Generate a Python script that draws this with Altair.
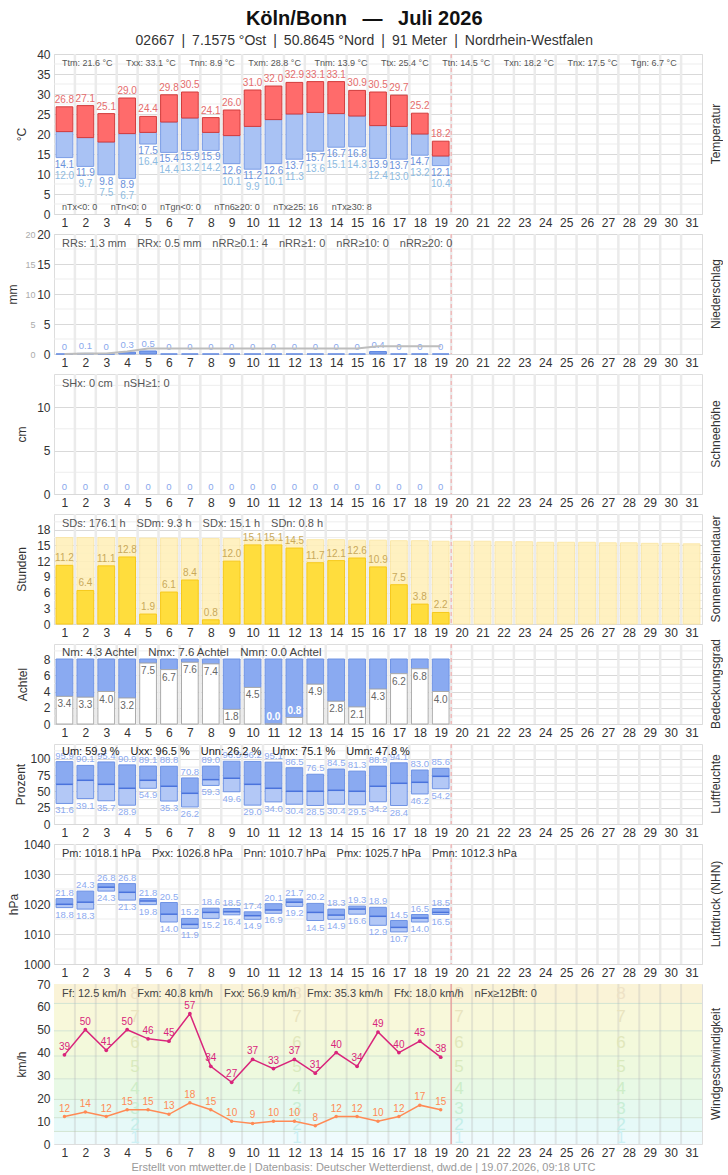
import altair as alt
import pandas as pd

FONT = "Liberation Sans"
W = 648
days_all = list(range(1, 32))
obs_days = list(range(1, 20))
last_day = 19

# ---------------- data ----------------
t_max = [26.8, 27.1, 25.1, 29.0, 24.4, 29.8, 30.5, 24.1, 26.0, 31.0, 32.0, 32.9, 33.1, 33.1, 30.9, 30.5, 29.7, 25.2, 18.2]
t_mean = [20.6, 19.1, 18.0, 20.1, 20.4, 23.0, 24.0, 20.4, 19.6, 21.9, 23.6, 25.0, 25.4, 25.1, 24.5, 22.1, 21.9, 20.0, 14.5]
t_min = [14.1, 11.9, 9.8, 8.9, 17.5, 15.4, 15.9, 15.9, 12.6, 11.2, 12.6, 13.7, 15.7, 16.7, 16.8, 13.9, 13.7, 14.7, 12.1]
t_ground = [12.0, 9.7, 7.5, 6.7, 16.4, 14.4, 13.2, 14.2, 10.1, 9.9, 10.1, 11.3, 13.6, 15.1, 14.3, 12.4, 13.0, 13.2, 10.4]
temp_stats_top = ["Ttm: 21.6 °C", "Txx: 33.1 °C", "Tnn: 8.9 °C", "Txm: 28.8 °C", "Tnm: 13.9 °C",
                  "Ttx: 25.4 °C", "Ttn: 14.5 °C", "Txn: 18.2 °C", "Tnx: 17.5 °C", "Tgn: 6.7 °C"]
temp_stats_bot = ["nTx<0: 0", "nTn<0: 0", "nTgn<0: 0", "nTn6≥20: 0", "nTx≥25: 16", "nTx≥30: 8"]

precip = [0, 0.1, 0, 0.3, 0.5, 0, 0, 0, 0, 0, 0, 0, 0, 0, 0, 0.4, 0, 0, 0]
precip_stats = ["RRs: 1.3 mm", "RRx: 0.5 mm", "nRR≥0.1: 4", "nRR≥1: 0", "nRR≥10: 0", "nRR≥20: 0"]

snow = [0] * 19
snow_stats = ["SHx: 0 cm", "nSH≥1: 0"]

sun = [11.2, 6.4, 11.1, 12.8, 1.9, 6.1, 8.4, 0.8, 12.0, 15.1, 15.1, 14.5, 11.7, 12.1, 12.6, 10.9, 7.5, 3.8, 2.2]
sun_max = [16.5, 16.5, 16.5, 16.5, 16.4, 16.4, 16.3, 16.3, 16.3, 16.2, 16.2, 16.1, 16.1, 16.1, 16.0, 16.0,
           15.9, 15.9, 15.8, 15.8, 15.8, 15.7, 15.7, 15.6, 15.6, 15.6, 15.5, 15.5, 15.4, 15.4, 15.3]
sun_stats = ["SDs: 176.1 h", "SDm: 9.3 h", "SDx: 15.1 h", "SDn: 0.8 h"]

cloud = [3.4, 3.3, 4.0, 3.2, 7.5, 6.7, 7.6, 7.4, 1.8, 4.5, 0.0, 0.8, 4.9, 2.8, 2.1, 4.3, 6.2, 6.8, 4.0]
cloud_stats = ["Nm: 4.3 Achtel", "Nmx: 7.6 Achtel", "Nmn: 0.0 Achtel"]

hum_max = [95.9, 90.1, 95.4, 90.9, 89.1, 88.8, 70.8, 89.0, 96.5, 96.2, 95.1, 86.5, 76.5, 84.5, 81.3, 88.9, 94.1, 83.0, 85.6]
hum_mean = [61.0, 67.2, 61.0, 54.9, 67.2, 58.0, 47.2, 68.2, 70.3, 61.0, 54.9, 50.3, 50.3, 51.8, 50.3, 58.0, 62.6, 64.1, 73.3]
hum_min = [31.6, 39.1, 35.7, 28.9, 54.9, 35.3, 26.2, 59.3, 49.6, 29.0, 34.0, 30.4, 28.5, 30.4, 29.5, 34.2, 28.4, 46.2, 54.2]
hum_stats = ["Um: 59.9 %", "Uxx: 96.5 %", "Unn: 26.2 %", "Umx: 75.1 %", "Umn: 47.8 %"]

p_max = [1021.8, 1024.3, 1026.8, 1026.8, 1021.8, 1020.5, 1015.2, 1018.6, 1018.5, 1017.4, 1020.1, 1021.7, 1020.2,
         1018.3, 1019.3, 1018.9, 1014.5, 1016.5, 1018.5]
p_mean = [1019.9, 1020.6, 1025.6, 1023.9, 1021.0, 1016.6, 1013.2, 1017.2, 1017.4, 1016.1, 1018.0, 1020.6, 1017.2,
          1016.3, 1018.3, 1015.9, 1012.2, 1015.3, 1017.2]
p_min = [1018.8, 1018.3, 1024.3, 1021.3, 1019.8, 1014.0, 1011.9, 1015.2, 1016.4, 1014.9, 1016.9, 1019.2, 1014.5,
         1014.9, 1016.6, 1012.9, 1010.7, 1014.0, 1016.5]
p_stats = ["Pm: 1018.1 hPa", "Pxx: 1026.8 hPa", "Pnn: 1010.7 hPa", "Pmx: 1025.7 hPa", "Pmn: 1012.3 hPa"]

gust = [39, 50, 41, 50, 46, 45, 57, 34, 27, 37, 33, 37, 31, 40, 34, 49, 40, 45, 38]
wind = [12, 14, 12, 15, 15, 13, 18, 15, 10, 9, 10, 10, 8, 12, 12, 10, 12, 17, 15]
wind_stats = ["Ff: 12.5 km/h", "Fxm: 40.8 km/h", "Fxx: 56.9 km/h", "Fmx: 35.3 km/h", "Ffx: 18.0 km/h", "nFx≥12Bft: 0"]

bft_num = ["1", "2", "3", "4", "5", "6", "7", "8"]
bft_lo = [0, 5.5, 11.5, 19.5, 28.5, 38.5, 49.5, 61.5]
bft_hi = [5.5, 11.5, 19.5, 28.5, 38.5, 49.5, 61.5, 70]
bft_fill = ["#effbfd", "#e6f9f8", "#e6f9ef", "#e8f9e5", "#eef9de", "#f3f9db", "#f8f8da", "#faf3d7"]
bft_text = ["#cdf0f4", "#c4eee9", "#c8eed5", "#cdedc8", "#d9eabe", "#e1e7bb", "#e9e4bf", "#eee2c6"]

title_text = "Köln/Bonn\u2002 —\u2002 Juli 2026"
subtitle_text = "02667\u2002|\u20027.1575 °Ost\u2002|\u200250.8645 °Nord\u2002|\u200291 Meter\u2002|\u2002Nordrhein-Westfalen"
footer_text = "Erstellt von mtwetter.de | Datenbasis: Deutscher Wetterdienst, dwd.de | 19.07.2026, 09:18 UTC"

SEP_SMALL = "\u2003\u2002"
SEP = "\u2003"

# ---------------- helpers ----------------
XS = alt.Scale(domain=[0.5, 31.5], nice=False, zero=False)


def xaxis(title=None, **kw):
    return alt.Axis(values=days_all, grid=False, ticks=False, domain=False, labelPadding=3,
                    labelFontSize=12, labelColor="#333", title=title, labelFlush=False, format="d",
                    labelFont=FONT, labelOverlap=False, **kw)


XAX = xaxis()


def X(field, ax=None):
    return alt.X(f"{field}:Q", scale=XS, axis=ax if ax is not None else XAX)


def steps(start, step, stop):
    out = []
    v = start
    while v <= stop + 1e-9:
        out.append(round(v, 3))
        v += step
    return out


def yax(values, title, grid=True, **kw):
    return alt.Axis(values=values, format="d", grid=grid, gridColor="#d9d9d9", gridWidth=1,
                    ticks=False, domain=False, title=title, labelFontSize=12,
                    labelColor="#333", labelFont=FONT, titleFont=FONT, titleFontSize=12,
                    titleFontWeight="normal", titleColor="#333", labelPadding=4, labelOverlap=False,
                    labelFlush=False, **kw)


def minor_grid(scale, axis, values):
    df = pd.DataFrame({"g": values})
    return alt.Chart(df).mark_rule(color="#ededed", strokeWidth=1).encode(
        y=alt.Y("g:Q", scale=scale, axis=axis))


def vgrid(ax=None, color="#ebebeb", width=2.5, opacity=1.0):
    df = pd.DataFrame({"b": [d + 0.5 for d in days_all[:-1]]})
    return alt.Chart(df).mark_rule(color=color, strokeWidth=width, opacity=opacity).encode(x=X("b", ax))


def today_rule(dash=True, ax=None):
    df = pd.DataFrame({"x": [last_day + 0.5]})
    if dash:
        m = alt.Chart(df).mark_rule(color="#f3a5a5", strokeWidth=1, strokeDash=[4, 3])
    else:
        m = alt.Chart(df).mark_rule(color="#ec9a9a", strokeWidth=1.2)
    return m.encode(x=X("x", ax))


def stats(items, size=11, color="#555", yv=9, sep=SEP):
    df = pd.DataFrame({"t": [sep.join(items)]})
    return alt.Chart(df).mark_text(align="left", baseline="middle", fontSize=size, color=color,
                                   font=FONT).encode(x=alt.value(8), y=alt.value(yv), text="t:N")


def rtitle(text):
    return alt.TitleParams(text, orient="right", angle=270, fontSize=12, fontWeight="normal",
                           color="#333", font=FONT, anchor="middle", offset=-4)


def barx(chart):
    return chart.transform_calculate(x0="datum.day - 0.4", x1="datum.day + 0.4")


# ---------------- temperature ----------------
tdf = pd.DataFrame({"day": obs_days, "tx": t_max, "tm": t_mean, "tn": t_min, "tg": t_ground})
TY = alt.Scale(domain=[0, 40], nice=False)
TAX = yax(steps(0, 5, 40), "°C", titlePadding=8)
tb = barx(alt.Chart(tdf))
temp = alt.layer(
    minor_grid(TY, TAX, steps(2.5, 5, 40)),
    vgrid(),
    tb.mark_bar(fill="#a9c2f4", stroke="#7b9de6", strokeWidth=1).encode(
        x=X("x0"), x2="x1", y=alt.Y("tn:Q", scale=TY, axis=TAX), y2="tm"),
    tb.mark_bar(fill="#ff6b6b", stroke="#d23c3c", strokeWidth=1).encode(
        x=X("x0"), x2="x1", y=alt.Y("tm:Q", scale=TY, axis=TAX), y2="tx"),
    alt.Chart(tdf).mark_text(baseline="bottom", dy=-2, fontSize=10, color="#e56d6d", font=FONT).encode(
        x=X("day"), y=alt.Y("tx:Q", scale=TY, axis=TAX), text=alt.Text("tx:Q", format=".1f")),
    alt.Chart(tdf).mark_text(baseline="top", dy=2, fontSize=10, color="#6a91dc", font=FONT).encode(
        x=X("day"), y=alt.Y("tn:Q", scale=TY, axis=TAX), text=alt.Text("tn:Q", format=".1f")),
    alt.Chart(tdf).mark_text(baseline="top", dy=13, fontSize=10, color="#8dbbe2", font=FONT).encode(
        x=X("day"), y=alt.Y("tn:Q", scale=TY, axis=TAX), text=alt.Text("tg:Q", format=".1f")),
    today_rule(),
    stats(temp_stats_top, 9, "#555", 9, SEP_SMALL),
    stats(temp_stats_bot, 9, "#555", 153, SEP_SMALL),
).properties(width=W, height=160, title=rtitle("Temperatur"))

# ---------------- precipitation ----------------
cum = []
s = 0
for v in precip:
    s += v
    cum.append(round(s, 2))
rdf = pd.DataFrame({"day": obs_days, "rr": precip, "cum": cum})
RY = alt.Scale(domain=[0, 20], nice=False)
RAX = yax(steps(0, 5, 20), None)
rr_main = alt.layer(
    minor_grid(RY, RAX, steps(2.5, 5, 20)),
    vgrid(),
    barx(alt.Chart(rdf)).mark_bar(fill="#7ea1ec", stroke="#5a83e0", strokeWidth=1).encode(
        x=X("x0"), x2="x1", y=alt.Y("rr:Q", scale=RY, axis=RAX), y2=alt.datum(0)),
    alt.Chart(rdf).transform_calculate(lab="datum.rr == 0 ? '0' : format(datum.rr, '.1f')").mark_text(
        baseline="bottom", dy=-2, fontSize=9.5, color="#8aa8ec", font=FONT).encode(
        x=X("day"), y=alt.Y("rr:Q", scale=RY, axis=RAX), text="lab:N"),
    today_rule(),
    stats(precip_stats, 11, "#555", 10),
)
rr_cum = alt.Chart(rdf).mark_line(color="#bdbdbd", strokeWidth=2).encode(
    x=X("day"),
    y=alt.Y("cum:Q", scale=alt.Scale(domain=[0, 20], nice=False),
            axis=alt.Axis(orient="left", offset=16, values=[0, 5, 10, 15, 20], labelFontSize=9,
                          labelColor="#aaa", grid=False, ticks=False, domain=False, title="mm",
                          labelPadding=3, titleFontWeight="normal", titleFontSize=12, titleColor="#333",
                          titleFont=FONT, labelFont=FONT, titlePadding=5, labelOverlap=False,
                          labelFlush=False)))
prec = alt.layer(rr_main, rr_cum).resolve_scale(y="independent").properties(
    width=W, height=120, title=rtitle("Niederschlag"))

# ---------------- snow ----------------
sdf = pd.DataFrame({"day": obs_days, "sh": snow})
SY = alt.Scale(domain=[0, 13.8], nice=False)
SAX = yax(steps(0, 5, 10), "cm", titlePadding=8)
snowc = alt.layer(
    minor_grid(SY, SAX, steps(2.5, 5, 13.8)),
    vgrid(),
    alt.Chart(sdf).mark_text(baseline="bottom", dy=-2, fontSize=9.5, color="#8aa8ec", font=FONT).encode(
        x=X("day"), y=alt.Y("sh:Q", scale=SY, axis=SAX), text=alt.Text("sh:Q", format="d")),
    today_rule(),
    stats(snow_stats, 11, "#555", 10),
).properties(width=W, height=120, title=rtitle("Schneehöhe"))

# ---------------- sunshine ----------------
sundf = pd.DataFrame({"day": obs_days, "sd": sun})
sunmax_df = pd.DataFrame({"day": days_all, "sdmax": sun_max})
DY = alt.Scale(domain=[0, 21], nice=False)
DAX = yax(steps(0, 3, 18), "Stunden", titlePadding=8)
sunc = alt.layer(
    minor_grid(DY, DAX, steps(1.5, 3, 20)),
    vgrid(),
    barx(alt.Chart(sunmax_df)).mark_bar(fill="#fff0bb", stroke="#fbe6a2", strokeWidth=1, opacity=0.9).encode(
        x=X("x0"), x2="x1", y=alt.Y("sdmax:Q", scale=DY, axis=DAX), y2=alt.datum(0)),
    barx(alt.Chart(sundf)).mark_bar(fill="#ffdd3d", stroke="#f6c91c", strokeWidth=1).encode(
        x=X("x0"), x2="x1", y=alt.Y("sd:Q", scale=DY, axis=DAX), y2=alt.datum(0)),
    alt.Chart(sundf).mark_text(baseline="bottom", dy=-2, fontSize=10, color="#c9a95a", font=FONT).encode(
        x=X("day"), y=alt.Y("sd:Q", scale=DY, axis=DAX), text=alt.Text("sd:Q", format=".1f")),
    today_rule(),
    stats(sun_stats, 11, "#555", 10),
).properties(width=W, height=110, title=rtitle("Sonnenscheindauer"))

# ---------------- cloud cover ----------------
cdf = pd.DataFrame({"day": obs_days, "n": cloud, "full": [8] * len(obs_days)})
CY = alt.Scale(domain=[0, 9.85], nice=False)
CAX = yax(steps(0, 2, 8), "Achtel", titlePadding=14)
cb = barx(alt.Chart(cdf))
cloudc = alt.layer(
    minor_grid(CY, CAX, steps(1, 2, 9.5)),
    vgrid(),
    cb.mark_bar(fill="#8aaaf1", stroke="#6f93e4", strokeWidth=1).encode(
        x=X("x0"), x2="x1", y=alt.Y("n:Q", scale=CY, axis=CAX), y2="full"),
    cb.mark_bar(fill="white", stroke="#aaaaaa", strokeWidth=1).encode(
        x=X("x0"), x2="x1", y=alt.Y("n:Q", scale=CY, axis=CAX), y2=alt.datum(0)),
    alt.Chart(cdf).transform_filter("datum.n >= 1.5").mark_text(
        baseline="top", dy=3, fontSize=10, color="#666", font=FONT).encode(
        x=X("day"), y=alt.Y("n:Q", scale=CY, axis=CAX), text=alt.Text("n:Q", format=".1f")),
    alt.Chart(cdf).transform_filter("datum.n < 1.5").mark_text(
        baseline="bottom", dy=-2, fontSize=10, color="white", fontWeight="bold", font=FONT).encode(
        x=X("day"), y=alt.Y("n:Q", scale=CY, axis=CAX), text=alt.Text("n:Q", format=".1f")),
    today_rule(),
    stats(cloud_stats, 11.5, "#444", 9),
).properties(width=W, height=80, title=rtitle("Bedeckungsgrad"))


# ---------------- range panels (humidity, pressure) ----------------
def range_panel(df, scale, axis, lab_expr_max, lab_expr_min):
    b = barx(alt.Chart(df))
    return [
        b.mark_bar(fill="#b3c8f6", strokeWidth=0).encode(
            x=X("x0"), x2="x1", y=alt.Y("lo:Q", scale=scale, axis=axis), y2="mid"),
        b.mark_bar(fill="#8aaaf1", strokeWidth=0).encode(
            x=X("x0"), x2="x1", y=alt.Y("mid:Q", scale=scale, axis=axis), y2="hi"),
        b.mark_bar(fill=None, stroke="#6f93e4", strokeWidth=1).encode(
            x=X("x0"), x2="x1", y=alt.Y("lo:Q", scale=scale, axis=axis), y2="hi"),
        b.mark_rule(color="#4a73dc", strokeWidth=1.5).encode(
            x=X("x0"), x2="x1", y=alt.Y("mid:Q", scale=scale, axis=axis)),
        alt.Chart(df).transform_calculate(lab=lab_expr_max).mark_text(
            baseline="bottom", dy=-1, fontSize=9.5, color="#8eabf0", font=FONT).encode(
            x=X("day"), y=alt.Y("hi:Q", scale=scale, axis=axis), text="lab:N"),
        alt.Chart(df).transform_calculate(lab=lab_expr_min).mark_text(
            baseline="top", dy=2, fontSize=9.5, color="#8eabf0", font=FONT).encode(
            x=X("day"), y=alt.Y("lo:Q", scale=scale, axis=axis), text="lab:N"),
    ]


hdf = pd.DataFrame({"day": obs_days, "hi": hum_max, "mid": hum_mean, "lo": hum_min})
HY = alt.Scale(domain=[0, 123], nice=False)
HAX = yax(steps(0, 25, 100), "Prozent", titlePadding=2)
humc = alt.layer(
    minor_grid(HY, HAX, steps(12.5, 25, 120)),
    vgrid(),
    *range_panel(hdf, HY, HAX, "format(datum.hi, '.1f')", "format(datum.lo, '.1f')"),
    today_rule(),
    stats(hum_stats, 11, "#222", 8),
).properties(width=W, height=80, title=rtitle("Luftfeuchte"))

pdf = pd.DataFrame({"day": obs_days, "hi": p_max, "mid": p_mean, "lo": p_min})
PY = alt.Scale(domain=[1000, 1040], nice=False, zero=False)
PAX = yax(steps(1000, 10, 1040), "hPa", titlePadding=3)
presc = alt.layer(
    minor_grid(PY, PAX, steps(1005, 10, 1040)),
    vgrid(),
    *range_panel(pdf, PY, PAX, "format(datum.hi - 1000, '.1f')", "format(datum.lo - 1000, '.1f')"),
    today_rule(),
    stats(p_stats, 11, "#333", 10),
).properties(width=W, height=120, title=rtitle("Luftdruck (NHN)"))

# ---------------- wind ----------------
WAX = xaxis(title=footer_text, titleFontSize=11, titleColor="#999", titleFontWeight="normal",
            titleFont=FONT, titlePadding=3, titleX=309, titleAlign="center")
WY = alt.Scale(domain=[0, 70], nice=False)
WYAX = yax(steps(0, 10, 70), "km/h", grid=False, titlePadding=8)
bdf = pd.DataFrame({"lo": bft_lo, "hi": bft_hi, "fill": bft_fill, "num": bft_num, "tc": bft_text})
bdf["mid"] = (bdf["lo"] + bdf["hi"]) / 2
num_rows = []
for k in range(4):
    for i in range(len(bft_num)):
        num_rows.append({"pos": 0.5 + 31 * (k + 0.5) / 4, "mid": bdf["mid"][i], "num": bft_num[i], "tc": bft_text[i]})
ndf = pd.DataFrame(num_rows)
wdf = pd.DataFrame({"day": obs_days, "fx": gust, "ff": wind})
windc = alt.layer(
    alt.Chart(bdf).mark_rect().encode(
        x=alt.value(0), x2=alt.value(W),
        y=alt.Y("lo:Q", scale=WY, axis=WYAX), y2="hi", color=alt.Color("fill:N", scale=None)),
    alt.Chart(bdf).transform_filter("datum.lo > 0").mark_rule(color="#d2e4d2", strokeWidth=1).encode(
        y=alt.Y("lo:Q", scale=WY, axis=WYAX)),
    vgrid(WAX, "#b5b5b5", 2, 0.3),
    alt.Chart(ndf).mark_text(fontSize=17, font=FONT).encode(
        x=X("pos", WAX), y=alt.Y("mid:Q", scale=WY, axis=WYAX), text="num:N",
        color=alt.Color("tc:N", scale=None)),
    alt.Chart(wdf).mark_line(color="#d9257b", strokeWidth=1.5,
                             point=alt.OverlayMarkDef(color="#d9257b", size=14, filled=True)).encode(
        x=X("day", WAX), y=alt.Y("fx:Q", scale=WY, axis=WYAX)),
    alt.Chart(wdf).mark_text(baseline="bottom", dy=-3, fontSize=10, color="#d9257b", font=FONT).encode(
        x=X("day", WAX), y=alt.Y("fx:Q", scale=WY, axis=WYAX), text=alt.Text("fx:Q", format="d")),
    alt.Chart(wdf).mark_line(color="#ff8a55", strokeWidth=1.5,
                             point=alt.OverlayMarkDef(color="#ff8a55", size=12, filled=True)).encode(
        x=X("day", WAX), y=alt.Y("ff:Q", scale=WY, axis=WYAX)),
    alt.Chart(wdf).mark_text(baseline="bottom", dy=-3, fontSize=10, color="#ff8a55", font=FONT).encode(
        x=X("day", WAX), y=alt.Y("ff:Q", scale=WY, axis=WYAX), text=alt.Text("ff:Q", format="d")),
    today_rule(False, WAX),
    stats(wind_stats, 11, "#444", 10),
).properties(width=W, height=160, title=rtitle("Windgeschwindigkeit"))

chart = alt.vconcat(temp, prec, snowc, sunc, cloudc, humc, presc, windc, spacing=20, bounds="flush").properties(
    title=alt.TitleParams(title_text, subtitle=subtitle_text, fontSize=20, fontWeight="bold", font=FONT,
                          color="#111", subtitleFontSize=14, subtitleColor="#333", subtitleFont=FONT,
                          anchor="middle", offset=0, subtitlePadding=5),
    padding={"left": 6, "top": 8, "right": 1, "bottom": 0},
).configure_view(stroke="black", strokeWidth=1).configure(font=FONT)

chart.save("out.html", embed_options={"renderer": "svg", "actions": False})
